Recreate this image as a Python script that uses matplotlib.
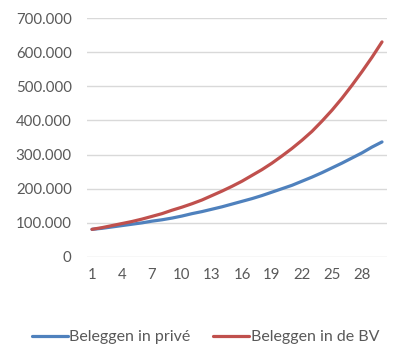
import matplotlib.pyplot as plt
from matplotlib.ticker import FuncFormatter

# jaren 1..30
jaren = list(range(1, 31))

# waarden in euro's
prive = [81000, 84000, 88000, 92000, 96000, 100000, 105000, 109000, 114000, 120000,
         127000, 133000, 140000, 147000, 155000, 163000, 171000, 180000, 190000, 200000,
         210000, 222000, 234000, 247000, 261000, 275000, 290000, 305000, 322000, 337000]
bv = [81000, 86000, 92000, 98000, 104000, 111000, 119000, 127000, 137000, 146000,
      156000, 167000, 180000, 193000, 207000, 222000, 239000, 256000, 275000, 296000,
      318000, 342000, 368000, 398000, 430000, 465000, 503000, 543000, 585000, 630000]

xticks = [1, 4, 7, 10, 13, 16, 19, 22, 25, 28]

plt.rcParams['font.family'] = ['Lato', 'DejaVu Sans']
tekst = '#595959'

fig = plt.figure(figsize=(4.11, 3.62), dpi=100)
ax = fig.add_axes([87 / 411, 1 - 257 / 362, 300 / 411, 239 / 362])

ax.plot(jaren, prive, color='#4F81BD', lw=2.3, label='Beleggen in privé', solid_capstyle='round')
ax.plot(jaren, bv, color='#C0504D', lw=2.3, label='Beleggen in de BV', solid_capstyle='round')

ax.set_xlim(0.5, 30.5)
ax.set_ylim(0, 700000)
ax.set_yticks(range(0, 700001, 100000))
ax.yaxis.set_major_formatter(FuncFormatter(lambda v, p: f"{int(v):,}".replace(',', '.')))
ax.set_xticks(xticks)

ax.grid(axis='y', color='#D9D9D9', lw=1)
ax.set_axisbelow(True)
for s in ax.spines.values():
    s.set_visible(False)
ax.tick_params(length=0, colors=tekst, labelsize=10.8)
ax.tick_params(axis='y', pad=11)
ax.tick_params(axis='x', pad=8)

fig.legend(loc='center', bbox_to_anchor=(0.5, 1 - 337 / 362), ncol=2, frameon=False,
           fontsize=11.5, labelcolor=tekst, handlelength=2.25, handletextpad=0.12,
           columnspacing=1.4)

fig.savefig('out.png', dpi=100)
